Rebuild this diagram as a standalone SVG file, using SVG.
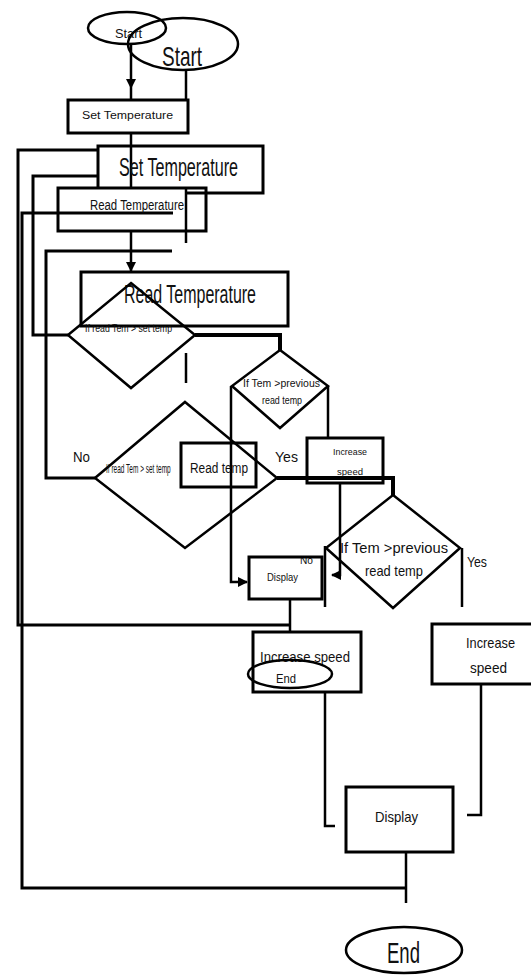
<svg xmlns="http://www.w3.org/2000/svg" width="531" height="975" viewBox="0 0 531 975">
<defs>
<style>
.s{fill:none;stroke:#000;stroke-width:3}
.t{fill:none;stroke:#000;stroke-width:4}
.c{fill:none;stroke:#000;stroke-width:2.5}
text{font-family:"Liberation Sans",Arial,sans-serif;fill:#111;text-anchor:start}
</style>
<marker id="a" viewBox="0 0 10 10" refX="9" refY="5" markerWidth="4" markerHeight="4" orient="auto"><path d="M0,0 L10,5 L0,10 z" fill="#000"/></marker>
</defs>
<rect width="531" height="975" fill="#fff"/>
<g id="connectors">
<polyline class="c" points="131,44 131,88 131,100" marker-mid="url(#a)"/>
<line class="c" x1="186" y1="69" x2="186" y2="100"/>
<line class="c" x1="131" y1="133" x2="131" y2="188"/>
<line class="c" x1="186" y1="188" x2="186" y2="243"/>
<polyline class="s" points="173,213 22,213 22,888 406,888"/>
<polyline class="s" points="98,150 18,150 18,625 290,625"/>
<line class="c" x1="290" y1="600" x2="290" y2="632"/>
<polyline class="s" points="98,176 33,176 33,335 68,335"/>
<polyline class="s" points="172,251 46,251 46,478 95,478"/>
<line class="c" x1="131" y1="231" x2="131" y2="271" marker-end="url(#a)"/>
<polyline class="t" points="195,335 280,335 280,350"/>
<line class="c" x1="186" y1="353" x2="186" y2="383"/>
<polyline class="c" points="231,386 231,582 247,582" marker-end="url(#a)"/>
<line class="c" x1="328" y1="386" x2="328" y2="438"/>
<polyline class="t" points="277,478 393,478 393,495"/>
<polyline class="c" points="340,483 340,575 332,575" marker-end="url(#a)"/>
<line class="c" x1="325" y1="546" x2="325" y2="607"/>
<line class="c" x1="462" y1="548" x2="462" y2="607"/>
<polyline class="c" points="325,692 325,826 335,826"/>
<polyline class="c" points="481,684 481,815 467,815"/>
<line class="c" x1="406" y1="852" x2="406" y2="903"/>
</g>
<g id="start-small">
<ellipse class="c" cx="127" cy="28" rx="39" ry="16"/>
<text x="115" y="38" font-size="13" textLength="27" lengthAdjust="spacingAndGlyphs">Start</text>
</g>
<g id="start-large">
<ellipse class="c" cx="183" cy="44" rx="55" ry="26"/>
<text x="162" y="66" font-size="28" textLength="40" lengthAdjust="spacingAndGlyphs">Start</text>
</g>
<g id="set-temp-small">
<rect class="s" x="68" y="100" width="120" height="33"/>
<text x="82" y="119" font-size="10" textLength="91" lengthAdjust="spacingAndGlyphs">Set Temperature</text>
</g>
<g id="set-temp-large">
<path class="s" d="M187,193 H263 V146 H98 V188"/>
<text x="119" y="176" font-size="26" textLength="119" lengthAdjust="spacingAndGlyphs">Set Temperature</text>
</g>
<g id="read-temp-small">
<rect class="s" x="58" y="188" width="148" height="43"/>
<text x="90" y="210" font-size="14" textLength="94" lengthAdjust="spacingAndGlyphs">Read Temperature</text>
</g>
<g id="read-temp-large">
<rect class="s" x="81" y="272" width="207" height="54"/>
<text x="124" y="303" font-size="26" textLength="132" lengthAdjust="spacingAndGlyphs">Read Temperature</text>
</g>
<g id="decision-1">
<polygon class="c" points="131,283 195,335 131,388 68,335"/>
<text x="85" y="332" font-size="10" textLength="87" lengthAdjust="spacingAndGlyphs">If read Tem &gt; set temp</text>
</g>
<g id="decision-2">
<polygon class="c" points="280,350 328,386 280,428 232,386"/>
<text x="243" y="387" font-size="10" textLength="77" lengthAdjust="spacingAndGlyphs">If Tem &gt;previous</text>
<text x="262" y="404" font-size="10" textLength="40" lengthAdjust="spacingAndGlyphs">read temp</text>
</g>
<g id="increase-small">
<rect class="s" x="307" y="438" width="76" height="45"/>
<text x="333" y="455" font-size="9" textLength="34" lengthAdjust="spacingAndGlyphs">Increase</text>
<text x="337" y="475" font-size="9" textLength="26" lengthAdjust="spacingAndGlyphs">speed</text>
</g>
<g id="decision-3">
<polygon class="c" points="185,402 277,478 185,548 95,478"/>
<text transform="translate(106,473) scale(0.5,1)" x="0" y="0" font-size="13">If read Tem &gt; set temp</text>
</g>
<g id="read-temp-box">
<rect class="s" x="181" y="443" width="75" height="44"/>
<text x="190" y="473" font-size="14" textLength="58" lengthAdjust="spacingAndGlyphs">Read temp</text>
</g>
<g id="labels">
<text x="73" y="462" font-size="14" textLength="17" lengthAdjust="spacingAndGlyphs">No</text>
<text x="275" y="462" font-size="14" textLength="23" lengthAdjust="spacingAndGlyphs">Yes</text>
<text x="300" y="564" font-size="10" textLength="13" lengthAdjust="spacingAndGlyphs">No</text>
<text x="467" y="567" font-size="14" textLength="20" lengthAdjust="spacingAndGlyphs">Yes</text>
</g>
<g id="display-small">
<rect class="s" x="249" y="557" width="73" height="42"/>
<text x="267" y="581" font-size="10" textLength="31" lengthAdjust="spacingAndGlyphs">Display</text>
</g>
<g id="decision-4">
<polygon class="c" points="393,495 460,548 393,608 326,548"/>
<text x="340" y="553" font-size="15" textLength="108" lengthAdjust="spacingAndGlyphs">If Tem &gt;previous</text>
<text x="365" y="576" font-size="15" textLength="58" lengthAdjust="spacingAndGlyphs">read temp</text>
</g>
<g id="increase-large">
<rect class="s" x="432" y="624" width="102" height="60"/>
<text x="466" y="648" font-size="15" textLength="49" lengthAdjust="spacingAndGlyphs">Increase</text>
<text x="470" y="673" font-size="15" textLength="37" lengthAdjust="spacingAndGlyphs">speed</text>
</g>
<g id="increase-end-box">
<rect class="s" x="253" y="632" width="108" height="60"/>
<text x="260" y="662" font-size="15" textLength="90" lengthAdjust="spacingAndGlyphs">Increase speed</text>
</g>
<g id="end-small">
<ellipse class="c" cx="290" cy="674" rx="42" ry="14"/>
<text x="276" y="683" font-size="13" textLength="20" lengthAdjust="spacingAndGlyphs">End</text>
</g>
<g id="display-large">
<rect class="s" x="346" y="787" width="107" height="65"/>
<text x="375" y="822" font-size="15" textLength="43" lengthAdjust="spacingAndGlyphs">Display</text>
</g>
<g id="end-large">
<ellipse class="c" cx="404" cy="950" rx="58" ry="23"/>
<text x="387" y="963" font-size="30" textLength="33" lengthAdjust="spacingAndGlyphs">End</text>
</g>
</svg>
